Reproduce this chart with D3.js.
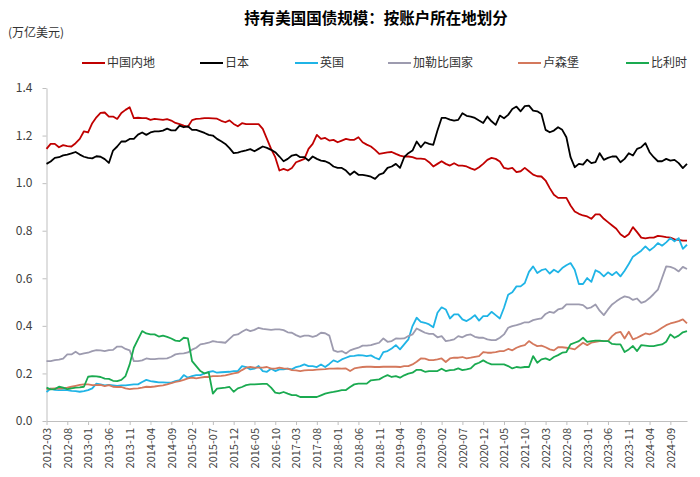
<!DOCTYPE html>
<html>

<head>
	<meta charset="utf-8">
	<script type="text/javascript" src="https://d3js.org/d3.v7.min.js"></script>
	<style>
		body { margin: 0; background: #fff; }
		text { font-family: "Noto Sans CJK SC", "Noto Sans", sans-serif; }
	</style>
</head>

<body>
	<svg height="477" width="700"></svg>
	<script>
		// months 2012-03 .. 2025-01
		var months = d3.timeMonth.range(new Date(2012, 2, 1), new Date(2025, 1, 1));
		var yTicks = [0, 0.2, 0.4, 0.6, 0.8, 1.0, 1.2, 1.4];

		var names = ["中国内地", "日本", "英国", "加勒比国家", "卢森堡", "比利时"];
		var colors = ["#C00000", "#000000", "#1FB4E6", "#9D9BAF", "#D4785C", "#1AAA50"];

		var china = [
			1.144, 1.165, 1.165, 1.151, 1.160, 1.156, 1.154, 1.168, 1.186, 1.218,
			1.213, 1.252, 1.277, 1.295, 1.297, 1.280, 1.280, 1.270, 1.295, 1.308,
			1.319, 1.273, 1.275, 1.273, 1.273, 1.266, 1.270, 1.268, 1.266, 1.269,
			1.263, 1.253, 1.248, 1.242, 1.237, 1.265, 1.270, 1.271, 1.273, 1.273,
			1.272, 1.271, 1.262,
			1.256, 1.264, 1.249, 1.239, 1.252, 1.248, 1.248, 1.248, 1.248, 1.228,
			1.186, 1.144, 1.109, 1.053, 1.060, 1.053, 1.064, 1.088, 1.095, 1.102,
			1.144, 1.165, 1.203, 1.186, 1.190, 1.179, 1.182, 1.172, 1.179, 1.186,
			1.182, 1.182, 1.193, 1.172, 1.162, 1.154, 1.140, 1.123, 1.126, 1.129,
			1.131, 1.123, 1.116, 1.112, 1.112, 1.109, 1.103, 1.103, 1.101, 1.088,
			1.070, 1.081, 1.092, 1.081, 1.074, 1.084, 1.074, 1.074, 1.070, 1.062,
			1.056, 1.067, 1.081, 1.098, 1.106, 1.102, 1.091, 1.064, 1.060, 1.064,
			1.046, 1.050, 1.064, 1.050, 1.036, 1.029,
			1.028, 1.011, 0.979, 0.951, 0.938, 0.938, 0.938, 0.906, 0.881, 0.871,
			0.864, 0.860, 0.850, 0.869, 0.869, 0.850, 0.836, 0.822, 0.808, 0.785,
			0.773, 0.785, 0.815, 0.794, 0.771, 0.768, 0.771, 0.771, 0.778, 0.776,
			0.773, 0.771, 0.764, 0.762, 0.758, 0.758
		];

		var japan = [
			1.081, 1.091, 1.106, 1.109, 1.117, 1.120, 1.125, 1.131, 1.120, 1.111,
			1.106, 1.104, 1.113, 1.111, 1.101, 1.085, 1.137, 1.154, 1.175, 1.175,
			1.186, 1.186, 1.204, 1.213, 1.203, 1.213, 1.218, 1.218, 1.221, 1.229,
			1.222, 1.222, 1.242, 1.235, 1.239, 1.224, 1.224, 1.218, 1.211, 1.203,
			1.200, 1.186, 1.176,
			1.165, 1.147, 1.126, 1.128, 1.134, 1.138, 1.143, 1.134, 1.144, 1.154,
			1.148, 1.140, 1.130, 1.112, 1.092, 1.102, 1.116, 1.120, 1.109, 1.109,
			1.095, 1.112, 1.102, 1.095, 1.092, 1.084, 1.070, 1.064, 1.064, 1.053,
			1.035, 1.049, 1.035, 1.035, 1.032, 1.027, 1.018, 1.036, 1.042, 1.064,
			1.070, 1.081, 1.064, 1.109, 1.126, 1.137, 1.175, 1.151, 1.172, 1.165,
			1.161, 1.221, 1.274, 1.274, 1.267, 1.263, 1.266, 1.294, 1.283, 1.280,
			1.274, 1.263, 1.253, 1.280, 1.260, 1.245, 1.284, 1.273, 1.287, 1.312,
			1.322, 1.302, 1.324, 1.326, 1.305, 1.302,
			1.291, 1.224, 1.214, 1.221, 1.235, 1.224, 1.193, 1.109, 1.067, 1.081,
			1.078, 1.099, 1.084, 1.088, 1.126, 1.098, 1.106, 1.112, 1.112, 1.088,
			1.102, 1.126, 1.116, 1.144, 1.151, 1.168, 1.130, 1.109, 1.092, 1.092,
			1.102, 1.095, 1.098, 1.084, 1.063, 1.081
		];

		var uk = [
			0.122, 0.136, 0.131, 0.130, 0.130, 0.130, 0.127, 0.126, 0.123, 0.126,
			0.130, 0.137, 0.157, 0.154, 0.150, 0.152, 0.150, 0.148, 0.150, 0.150,
			0.152, 0.154, 0.154, 0.164, 0.173, 0.168, 0.165, 0.162, 0.162, 0.161,
			0.161, 0.168, 0.172, 0.193, 0.182, 0.189, 0.193, 0.193, 0.200, 0.206,
			0.210, 0.203, 0.205,
			0.206, 0.207, 0.210, 0.210, 0.231, 0.227, 0.217, 0.220, 0.231, 0.210,
			0.207, 0.220, 0.210, 0.217, 0.217, 0.220, 0.217, 0.227, 0.231, 0.238,
			0.231, 0.231, 0.227, 0.238, 0.227, 0.240, 0.255, 0.248, 0.259, 0.266,
			0.273, 0.274, 0.277, 0.276, 0.273, 0.276, 0.266, 0.259, 0.290, 0.294,
			0.305, 0.319, 0.301, 0.322, 0.343, 0.399, 0.434, 0.417, 0.413, 0.406,
			0.394, 0.455, 0.478, 0.469, 0.431, 0.448, 0.448, 0.427, 0.420, 0.431,
			0.445, 0.422, 0.441, 0.441, 0.459, 0.445, 0.431, 0.476, 0.531, 0.541,
			0.566, 0.566, 0.580, 0.627, 0.650, 0.622,
			0.634, 0.639, 0.620, 0.636, 0.625, 0.643, 0.655, 0.664, 0.636, 0.576,
			0.576, 0.601, 0.585, 0.634, 0.625, 0.608, 0.625, 0.613, 0.627, 0.608,
			0.632, 0.660, 0.691, 0.703, 0.716, 0.734, 0.717, 0.730, 0.748, 0.737,
			0.751, 0.769, 0.755, 0.769, 0.724, 0.741
		];

		var caribbean = [
			0.252, 0.252, 0.256, 0.258, 0.262, 0.280, 0.280, 0.291, 0.280, 0.284,
			0.287, 0.294, 0.298, 0.297, 0.294, 0.298, 0.299, 0.313, 0.313, 0.303,
			0.297, 0.252, 0.252, 0.255, 0.263, 0.260, 0.260, 0.262, 0.262, 0.263,
			0.270, 0.280, 0.283, 0.284, 0.288, 0.300, 0.308, 0.322, 0.325, 0.329,
			0.336, 0.333, 0.331,
			0.329, 0.345, 0.361, 0.364, 0.375, 0.385, 0.378, 0.383, 0.392, 0.387,
			0.385, 0.383, 0.385, 0.385, 0.382, 0.373, 0.371, 0.361, 0.354, 0.359,
			0.359, 0.354, 0.359, 0.371, 0.369, 0.359, 0.297, 0.291, 0.294, 0.284,
			0.297, 0.303, 0.308, 0.317, 0.317, 0.319, 0.324, 0.329, 0.347, 0.333,
			0.336, 0.347, 0.346, 0.347, 0.357, 0.364, 0.389, 0.380, 0.371, 0.366,
			0.366, 0.352, 0.357, 0.336, 0.339, 0.343, 0.357, 0.352, 0.361, 0.364,
			0.354, 0.350, 0.350, 0.343, 0.340, 0.340, 0.350, 0.364, 0.392, 0.399,
			0.403, 0.408, 0.415, 0.415, 0.424, 0.428,
			0.431, 0.450, 0.459, 0.455, 0.469, 0.473, 0.490, 0.490, 0.490, 0.490,
			0.487, 0.473, 0.478, 0.490, 0.464, 0.445, 0.469, 0.490, 0.503, 0.515,
			0.524, 0.520, 0.509, 0.515, 0.497, 0.503, 0.517, 0.534, 0.552, 0.601,
			0.650, 0.648, 0.641, 0.629, 0.648, 0.639
		];

		var luxembourg = [
			0.133, 0.136, 0.137, 0.136, 0.137, 0.140, 0.144, 0.148, 0.152, 0.154,
			0.154, 0.151, 0.151, 0.152, 0.147, 0.151, 0.144, 0.143, 0.143, 0.137,
			0.134, 0.136, 0.137, 0.140, 0.144, 0.143, 0.145, 0.148, 0.150, 0.154,
			0.159, 0.164, 0.168, 0.173, 0.179, 0.182, 0.179, 0.182, 0.185, 0.185,
			0.189, 0.189, 0.190,
			0.192, 0.196, 0.200, 0.203, 0.214, 0.224, 0.227, 0.224, 0.224, 0.224,
			0.227, 0.220, 0.220, 0.224, 0.221, 0.220, 0.214, 0.213, 0.210, 0.213,
			0.214, 0.214, 0.216, 0.217, 0.218, 0.220, 0.220, 0.221, 0.220, 0.221,
			0.210, 0.221, 0.224, 0.227, 0.228, 0.228, 0.227, 0.227, 0.228, 0.228,
			0.229, 0.228, 0.227, 0.231, 0.231, 0.238, 0.249, 0.263, 0.262, 0.256,
			0.256, 0.259, 0.263, 0.248, 0.263, 0.266, 0.266, 0.269, 0.263, 0.266,
			0.270, 0.273, 0.290, 0.287, 0.287, 0.290, 0.294, 0.294, 0.303, 0.297,
			0.308, 0.315, 0.319, 0.336, 0.324, 0.315,
			0.317, 0.310, 0.301, 0.297, 0.310, 0.310, 0.308, 0.305, 0.301, 0.315,
			0.329, 0.319, 0.329, 0.333, 0.336, 0.336, 0.336, 0.357, 0.371, 0.375,
			0.347, 0.375, 0.343, 0.350, 0.359, 0.368, 0.364, 0.371, 0.380, 0.392,
			0.403, 0.410, 0.415, 0.420, 0.427, 0.410
		];

		var belgium = [
			0.140, 0.133, 0.134, 0.144, 0.140, 0.134, 0.137, 0.140, 0.141, 0.144,
			0.186, 0.189, 0.188, 0.185, 0.178, 0.177, 0.169, 0.168, 0.173, 0.189,
			0.238, 0.308, 0.343, 0.378, 0.368, 0.364, 0.364, 0.355, 0.359, 0.354,
			0.347, 0.338, 0.336, 0.350, 0.347, 0.252, 0.231, 0.210, 0.200, 0.205,
			0.115, 0.136, 0.138,
			0.140, 0.143, 0.123, 0.137, 0.143, 0.151, 0.154, 0.154, 0.155, 0.156,
			0.156, 0.140, 0.119, 0.116, 0.122, 0.115, 0.109, 0.109, 0.101, 0.101,
			0.101, 0.101, 0.101, 0.108, 0.115, 0.119, 0.122, 0.126, 0.130, 0.130,
			0.143, 0.154, 0.157, 0.157, 0.157, 0.171, 0.173, 0.175, 0.185, 0.193,
			0.185, 0.189, 0.182, 0.192, 0.199, 0.203, 0.215, 0.215, 0.207, 0.210,
			0.210, 0.210, 0.220, 0.210, 0.214, 0.215, 0.221, 0.214, 0.217, 0.221,
			0.238, 0.245, 0.255, 0.245, 0.238, 0.238, 0.238, 0.238, 0.231, 0.221,
			0.227, 0.224, 0.227, 0.227, 0.273, 0.245,
			0.259, 0.263, 0.256, 0.269, 0.277, 0.287, 0.290, 0.322, 0.329, 0.336,
			0.350, 0.333, 0.336, 0.338, 0.338, 0.336, 0.336, 0.324, 0.322, 0.322,
			0.290, 0.301, 0.315, 0.294, 0.319, 0.317, 0.315, 0.315, 0.319, 0.322,
			0.333, 0.364, 0.350, 0.359, 0.373, 0.378
		];

		var series = [china, japan, uk, caribbean, luxembourg, belgium];

		var margin = { top: 88, right: 13, bottom: 56, left: 46.5 };
		var width = 700, height = 477;
		var fmt = d3.timeFormat("%Y-%m");

		var x = d3.scaleLinear()
			.domain([0, months.length - 1])
			.range([margin.left, width - margin.right]);

		var y = d3.scaleLinear()
			.domain([0, 1.4])
			.range([height - margin.bottom, margin.top]);

		var svg = d3.select("svg");

		// title + unit
		svg.append("text")
			.attr("x", 376).attr("y", 24)
			.attr("text-anchor", "middle")
			.attr("font-size", 15.5).attr("font-weight", "bold")
			.attr("fill", "#000")
			.text("持有美国国债规模：按账户所在地划分");

		svg.append("text")
			.attr("x", 8).attr("y", 37)
			.attr("font-size", 12).attr("fill", "#333")
			.text("(万亿美元)");

		// legend
		var legendX = [82, 200, 295, 388, 518, 626];
		var lg = svg.append("g").selectAll("g")
			.data(names)
			.join("g")
			.attr("transform", (d, i) => `translate(${legendX[i]},63)`);
		lg.append("line")
			.attr("x1", 0).attr("x2", 23)
			.attr("stroke", (d, i) => colors[i])
			.attr("stroke-width", 2);
		lg.append("text")
			.attr("x", 25).attr("dy", "0.35em")
			.attr("font-size", 12).attr("fill", "#333")
			.text(d => d);

		// axes
		var xAxis = g => g
			.attr("transform", `translate(0,${height - margin.bottom})`)
			.call(d3.axisBottom(x)
				.tickValues(d3.range(0, months.length, 5))
				.tickFormat(i => fmt(months[i]))
				.tickSize(4).tickSizeOuter(0));

		var yAxis = g => g
			.attr("transform", `translate(${margin.left},0)`)
			.call(d3.axisLeft(y)
				.tickValues(yTicks)
				.tickFormat(d3.format(".1f"))
				.tickSize(4).tickPadding(10).tickSizeOuter(0));

		var gx = svg.append("g").call(xAxis);
		gx.selectAll("text")
			.attr("transform", "rotate(-90)")
			.attr("x", -7).attr("y", 0).attr("dy", "0.35em")
			.style("text-anchor", "end")
			.attr("font-size", 11).attr("fill", "#404040");

		var gy = svg.append("g").call(yAxis);
		gy.selectAll("text").attr("font-size", 12).attr("fill", "#404040");

		svg.selectAll(".domain, .tick line").attr("stroke", "#BFBFBF");

		// lines
		var line = d3.line()
			.x((d, i) => x(i))
			.y(d => y(d));

		svg.append("g")
			.selectAll("path")
			.data(series)
			.join("path")
			.attr("d", d => line(d))
			.attr("fill", "none")
			.attr("stroke", (d, i) => colors[i])
			.attr("stroke-width", 1.8)
			.attr("stroke-linejoin", "round");

	</script>

</body>

</html>
